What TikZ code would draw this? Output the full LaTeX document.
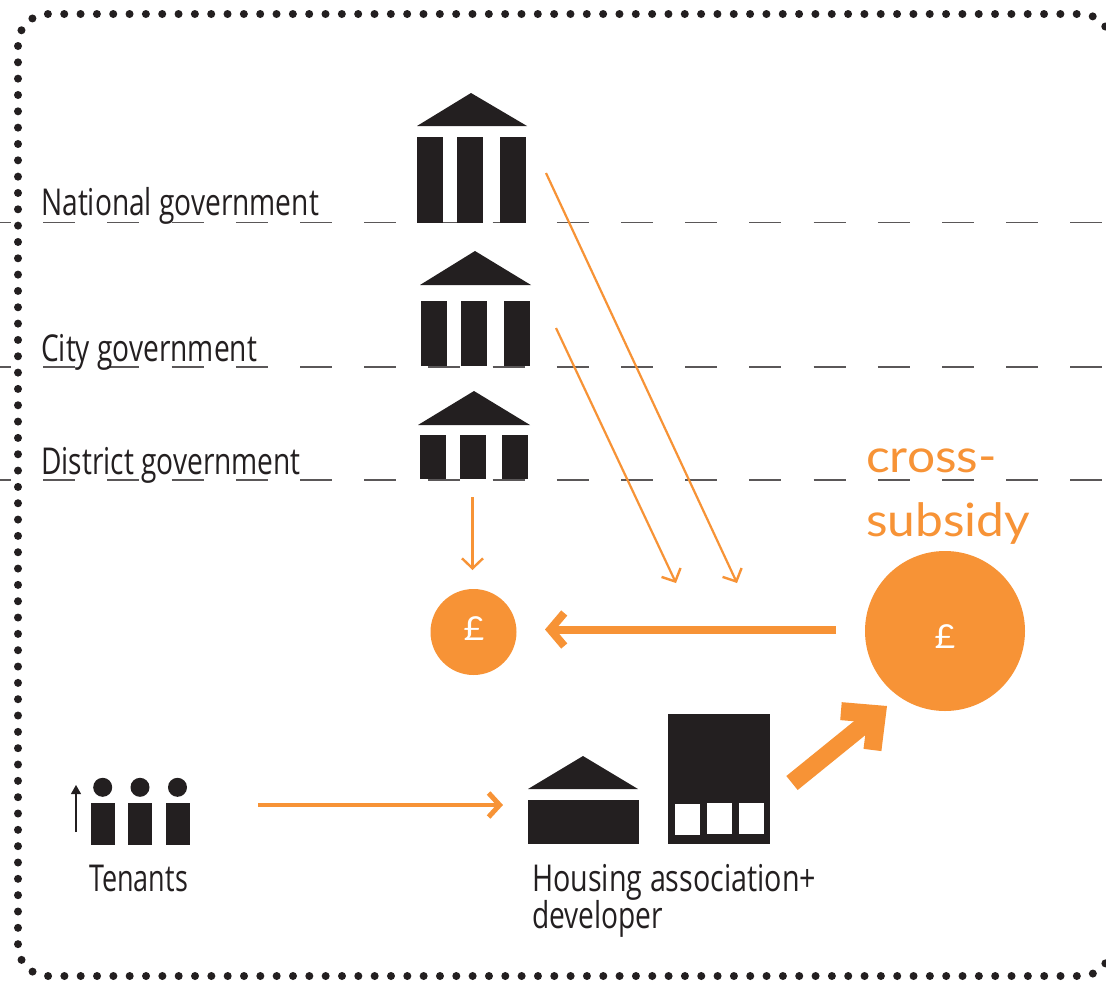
\documentclass[tikz,border=0pt]{standalone}
\usepackage{fontspec}
\usetikzlibrary{arrows.meta}
\setmainfont[FakeStretch=0.76]{Open Sans}
\newfontfamily\avfont[FakeStretch=1.08]{Lato}
\definecolor{ink}{HTML}{231F20}
\definecolor{org}{HTML}{F79336}
\tikzset{
  x=1pt,y=-1pt,
  lab/.style={anchor=base west,inner sep=0,text=ink,font=\fontsize{37}{37}\selectfont},
  cross/.style={anchor=base west,inner sep=0,text=org,font=\avfont\fontsize{46}{46}\selectfont},
  money/.style={circle,fill=org,inner sep=0},
  pound/.style={inner sep=0,text=white,font=\avfont\fontsize{33}{33}\selectfont},
  levelline/.style={draw=ink!75,line width=1.1pt,dash pattern=on 32pt off 32.2pt},
  framedots/.style={ink,line width=8pt,line cap=round,dash pattern=on 0pt off 16.33pt,rounded corners=30pt},
  thinarrow/.style={draw=org,line width=2.2pt,-{Straight Barb[length=10pt,width=21pt,line width=2.4pt]}},
  midarrow/.style={draw=org,line width=8pt,-{Straight Barb[length=14pt,width=33pt,line width=8pt]}},
  lowarrow/.style={draw=org,line width=4.6pt,-{Straight Barb[length=11pt,width=24pt,line width=5pt]}},
  bigarrow/.style={draw=org,line width=18pt,-{Straight Barb[length=26pt,width=50pt,line width=18pt]}},
  solid ink/.style={fill=ink,draw=none}
}
\newcommand{\bldg}[9]{%
  \fill[solid ink] (#1,#2) -- (#4,#5) -- (#3,#5) -- cycle;
  \foreach \cx in {#8}{\fill[solid ink] (\cx,#6) rectangle ++(#9,#7-#6);}
}
\begin{document}
\begin{tikzpicture}
\useasboundingbox (0,0) rectangle (1106,983);
\clip (0,0) rectangle (1106,983);
\fill[white] (0,0) rectangle (1106,983);
% level lines
\coordinate (la) at (-21,222.5); \coordinate (lb) at (1106,222.5);
\coordinate (lc) at (-21,367);   \coordinate (ld) at (1106,367);
\coordinate (le) at (-21,480);   \coordinate (lf) at (1106,480);
\draw[levelline] (la) -- (lb);
\draw[levelline] (lc) -- (ld);
\draw[levelline] (le) -- (lf);
% dotted frame
\draw[framedots] (18,46) -- (18,14) -- (1111,14) -- (1111,500);
\draw[framedots] (18,62.33) -- (18,976) -- (1111,976) -- (1111,600);
% buildings
\bldg{471}{93}{417}{527}{126}{137}{222.5}{417,457,500}{26}
\bldg{475}{251}{420}{531}{285}{301}{366}{421,461,504}{26}
\bldg{474}{391}{418}{530}{425}{435}{479}{420,460,502}{26}
% house
\fill[solid ink] (583,756) -- (638,789) -- (528,789) -- cycle;
\fill[solid ink] (528,800) rectangle (639,844);
% tower
\fill[solid ink] (668,714) rectangle (770,844);
\fill[white] (675,804) rectangle (700,835);
\fill[white] (707,803) rectangle (732,834);
\fill[white] (739,803) rectangle (764,834);
% tenants
\foreach \hx/\bx in {102.7/91,140/128,177.5/166}{
  \fill[solid ink] (\hx,787.3) circle (9.5);
  \fill[solid ink] (\bx,803) rectangle ++(24,42);
}
% circles
\node[money,minimum size=86pt] (small) at (473.5,632) {};
\node[money,minimum size=160pt] (big) at (945,631) {};
\node[pound] (psmall) at (474,628.5) {£};
\node[pound] (pbig) at (945,637) {£};
% labels
\node[lab] (nat) at (41,215) {National government};
\node[lab] (cit) at (41,361) {City government};
\node[lab] (dis) at (41,474) {District government};
\node[lab] (ten) at (89,891) {\scalebox{0.96}[1]{Tenants}};
\node[lab] (hou) at (532,891) {\scalebox{1.02}[1]{Housing association+}};
\node[lab] (dev) at (532,928) {developer};
\node[cross] (cr1) at (866,472) {cross-};
\node[cross] (cr2) at (866,536) {subsidy};
% connector ends
\coordinate (a1) at (546,173); \coordinate (a2) at (737,583);
\coordinate (b1) at (556,328); \coordinate (b2) at (676,583);
\coordinate (c1) at (472.5,497); \coordinate (c2) at (472.5,570);
\coordinate (d1) at (836,629.5); \coordinate (d2) at (545,629.5);
\coordinate (e1) at (258,805); \coordinate (e2) at (503,805);
\coordinate (f1) at (792,783); \coordinate (f2) at (887,706);
\coordinate (g1) at (76,832); \coordinate (g2) at (76,785);
\draw[thinarrow] (a1) -- (a2);
\draw[thinarrow] (b1) -- (b2);
\draw[thinarrow] (c1) -- (c2);
\draw[midarrow] (d1) -- (d2);
\draw[lowarrow] (e1) -- (e2);
\draw[bigarrow] (f1) -- (f2);
\draw[ink,line width=1.1pt,-{Triangle[length=9pt,width=10pt]}] (g1) -- (g2);
\end{tikzpicture}
\end{document}
